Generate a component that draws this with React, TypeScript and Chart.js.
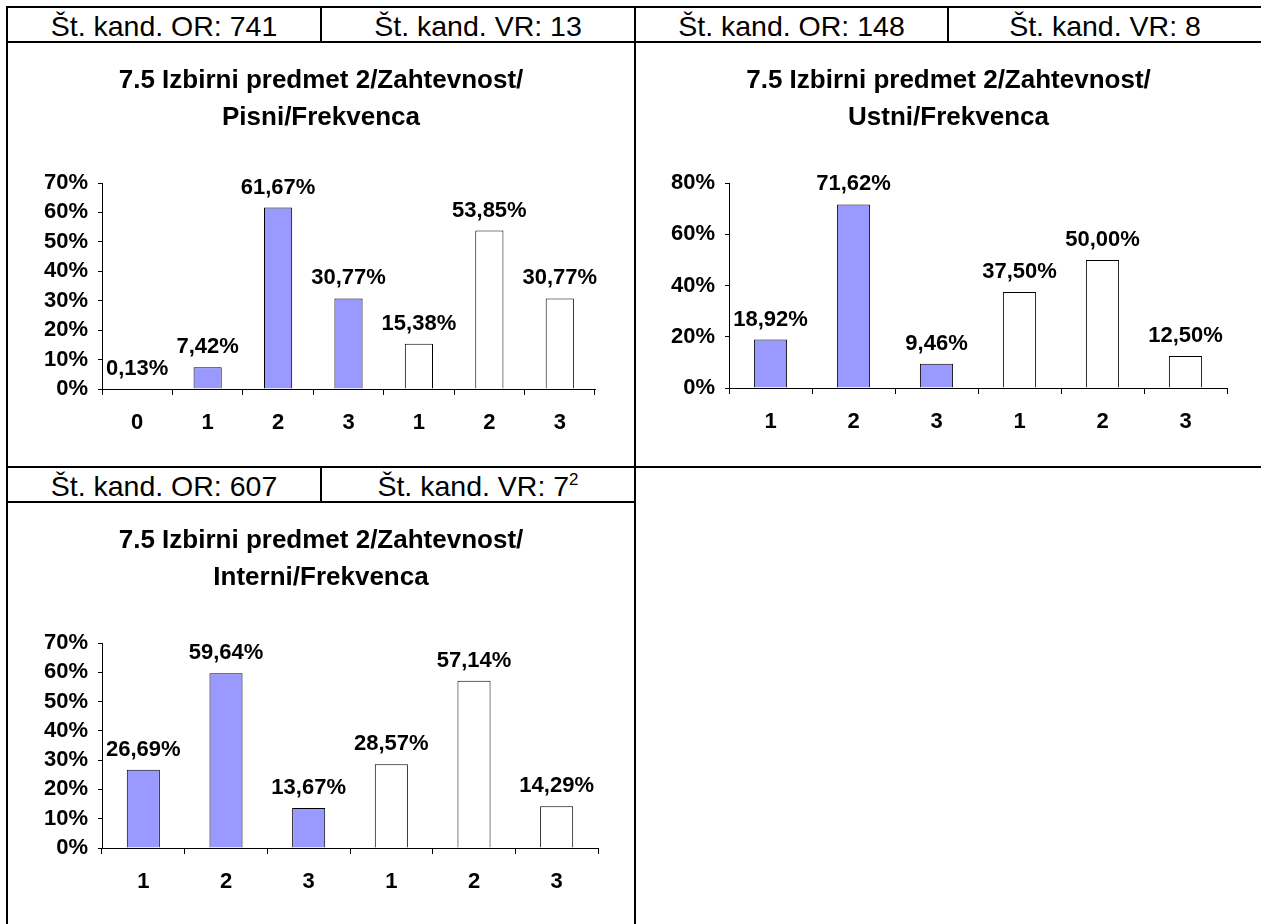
import { useEffect, useRef } from "react";
import { Chart, registerables, type ChartConfiguration, type Plugin } from "chart.js";

Chart.register(...registerables);

const FONT = "'Liberation Sans', Arial, sans-serif";
const OR_FILL = "#9999ff";

// 7.5 Izbirni predmet 2 / Zahtevnost / Pisni
const pisniLabels = ["0", "1", "2", "3", "1", "2", "3"];
const pisniOR = [0.13, 7.42, 61.67, 30.77, null, null, null];
const pisniVR = [null, null, null, null, 15.38, 53.85, 30.77];

// Ustni
const ustniLabels = ["1", "2", "3", "1", "2", "3"];
const ustniOR = [18.92, 71.62, 9.46, null, null, null];
const ustniVR = [null, null, null, 37.5, 50.0, 12.5];

// Interni
const interniLabels = ["1", "2", "3", "1", "2", "3"];
const interniOR = [26.69, 59.64, 13.67, null, null, null];
const interniVR = [null, null, null, 28.57, 57.14, 14.29];

const fmt = (n: number) => n.toFixed(2).replace(".", ",") + "%";

// values over the bars, like Excel's "outside end" labels
const valueLabels: Plugin<"bar"> = {
  id: "valueLabels",
  afterDatasetsDraw(chart) {
    const { ctx } = chart;
    ctx.save();
    ctx.font = `bold 22px ${FONT}`;
    ctx.fillStyle = "#000";
    ctx.textAlign = "center";
    ctx.textBaseline = "alphabetic";
    chart.data.datasets.forEach((ds, i) => {
      chart.getDatasetMeta(i).data.forEach((bar: any, j) => {
        const val = ds.data[j] as number | null;
        if (val == null) return;
        ctx.fillText(fmt(val), bar.x, bar.y - 14);
      });
    });
    ctx.restore();
  },
};

interface PanelChartProps {
  title: string[];
  labels: string[];
  or: (number | null)[];
  vr: (number | null)[];
  max: number;
  step: number;
  yWidth: number;
  xHeight: number;
  padRight: number;
}

function PanelChart({ title, labels, or, vr, max, step, yWidth, xHeight, padRight }: PanelChartProps) {
  const ref = useRef<HTMLCanvasElement>(null);
  useEffect(() => {
    if (!ref.current) return;
    const tickFont = { family: FONT, size: 22, weight: "bold" as const };
    const cfg: ChartConfiguration<"bar"> = {
      type: "bar",
      data: {
        labels,
        datasets: [
          { label: "OR", data: or, backgroundColor: OR_FILL, borderColor: "#000", borderWidth: 1, grouped: false, categoryPercentage: 1, barPercentage: 0.4 },
          { label: "VR", data: vr, backgroundColor: "#fff", borderColor: "#000", borderWidth: 1, grouped: false, categoryPercentage: 1, barPercentage: 0.4 },
        ],
      },
      options: {
        responsive: true, maintainAspectRatio: false, animation: false,
        layout: { padding: 0 },
        plugins: {
          legend: { display: false },
          tooltip: { enabled: false },
          title: {
            display: true, text: title, color: "#000",
            font: { family: FONT, size: 26, weight: "bold", lineHeight: "37px" },
            padding: { top: 19.5, bottom: 46.5 },
          },
        },
        scales: {
          x: {
            grid: { drawOnChartArea: false, drawTicks: true, tickLength: 6, color: "#000", offset: true },
            border: { display: true, color: "#000", width: 1 },
            ticks: { color: "#000", font: tickFont, padding: 15, maxRotation: 0, autoSkip: false },
            afterFit: (s: any) => { s.height = xHeight; },
          },
          y: {
            min: 0, max,
            grid: { drawOnChartArea: false, drawTicks: true, tickLength: 4, color: "#000" },
            border: { display: true, color: "#000", width: 1 },
            ticks: { color: "#000", font: tickFont, stepSize: step, padding: 10, autoSkip: false, callback: (v) => `${v}%` },
            afterFit: (s: any) => { s.width = yWidth; },
          },
          // empty right-hand spacer, keeps the plot narrower while the title stays centred
          spacer: {
            type: "linear", position: "right",
            grid: { display: false, drawTicks: false },
            border: { display: false },
            ticks: { display: false },
            afterFit: (s: any) => { s.width = padRight; },
          },
        },
      },
      plugins: [valueLabels],
    };
    const chart = new Chart(ref.current, cfg);
    return () => chart.destroy();
  }, []);
  return <canvas ref={ref} />;
}

const Line = ({ x, y, w, h }: { x: number; y: number; w: number; h: number }) => (
  <div style={{ position: "absolute", left: x, top: y, width: w, height: h, background: "#000" }} />
);

const Cell = ({ x, y, w, h, children }: { x: number; y: number; w: number; h: number; children: any }) => (
  <div style={{
    position: "absolute", left: x, top: y, width: w, height: h, lineHeight: `${h}px`,
    textAlign: "center", fontFamily: FONT, fontSize: 28.5, color: "#000", paddingTop: 2, boxSizing: "border-box", whiteSpace: "nowrap",
  }}>{children}</div>
);

const Box = ({ x, y, w, h, children }: { x: number; y: number; w: number; h: number; children: any }) => (
  <div style={{ position: "absolute", left: x, top: y, width: w, height: h }}>{children}</div>
);

export default function App() {
  return (
    <div style={{ position: "absolute", left: 0, top: 0, width: 1261, height: 924, overflow: "hidden", background: "#fff" }}>
      <Cell x={8} y={8} w={312} h={33}>Št. kand. OR: 741</Cell>
      <Cell x={322} y={8} w={312} h={33}>Št. kand. VR: 13</Cell>
      <Cell x={636} y={8} w={311} h={33}>Št. kand. OR: 148</Cell>
      <Cell x={949} y={8} w={312} h={33}>Št. kand. VR: 8</Cell>
      <Cell x={8} y={468} w={312} h={33}>Št. kand. OR: 607</Cell>
      <Cell x={322} y={468} w={312} h={33}>
        Št. kand. VR: 7<sup style={{ fontSize: 17, lineHeight: 0, verticalAlign: "11px" }}>2</sup>
      </Cell>

      <Box x={8} y={43} w={626} h={423}>
        <PanelChart title={["7.5 Izbirni predmet 2/Zahtevnost/", "Pisni/Frekvenca"]} labels={pisniLabels} or={pisniOR} vr={pisniVR}
          max={70} step={10} yWidth={94} xHeight={77} padRight={39} />
      </Box>
      <Box x={636} y={43} w={625} h={423}>
        <PanelChart title={["7.5 Izbirni predmet 2/Zahtevnost/", "Ustni/Frekvenca"]} labels={ustniLabels} or={ustniOR} vr={ustniVR}
          max={80} step={20} yWidth={93} xHeight={78} padRight={34} />
      </Box>
      <Box x={8} y={503} w={626} h={421}>
        <PanelChart title={["7.5 Izbirni predmet 2/Zahtevnost/", "Interni/Frekvenca"]} labels={interniLabels} or={interniOR} vr={interniVR}
          max={70} step={10} yWidth={94} xHeight={76} padRight={36} />
      </Box>

      <Line x={6} y={6} w={1255} h={2} />
      <Line x={6} y={41} w={1255} h={2} />
      <Line x={6} y={466} w={1255} h={2} />
      <Line x={6} y={501} w={630} h={2} />
      <Line x={6} y={6} w={2} h={918} />
      <Line x={634} y={6} w={2} h={918} />
      <Line x={320} y={6} w={2} h={37} />
      <Line x={947} y={6} w={2} h={37} />
      <Line x={320} y={466} w={2} h={37} />
    </div>
  );
}
